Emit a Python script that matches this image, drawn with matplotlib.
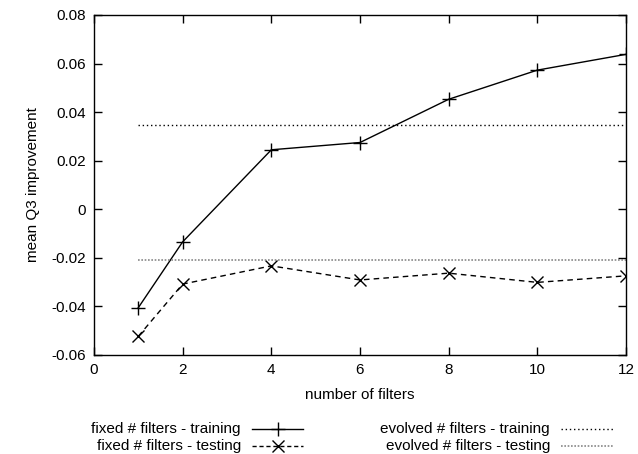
import matplotlib.pyplot as plt
from matplotlib.lines import Line2D

plt.rcParams['font.family'] = ['Liberation Sans', 'DejaVu Sans']

# Data
n_filters = [1, 2, 4, 6, 8, 10, 12]
fixed_training = [-0.0405, -0.0134, 0.0245, 0.0275, 0.0453, 0.0573, 0.0638]
fixed_testing = [-0.0523, -0.0308, -0.0233, -0.0291, -0.0263, -0.0301, -0.0274]
evolved_x = [1, 12]
evolved_training = 0.0349
evolved_testing = -0.0209

x_ticks = [0, 2, 4, 6, 8, 10, 12]
y_ticks = [-0.06, -0.04, -0.02, 0, 0.02, 0.04, 0.06, 0.08]
y_labels = ['-0.06', '-0.04', '-0.02', '0', '0.02', '0.04', '0.06', '0.08']

W, H = 638, 454
fig = plt.figure(figsize=(W / 100, H / 100), dpi=100)
ax = fig.add_axes([94 / W, 1 - 355 / H, (626 - 94) / W, (355 - 15) / H])

ax.plot(n_filters, fixed_training, color='black', lw=1, marker='+', ms=10, mew=1)
ax.plot(n_filters, fixed_testing, color='black', lw=1, ls=(0, (4, 3)), marker='x', ms=9, mew=1)
ax.plot(evolved_x, [evolved_training] * 2, color='black', lw=1, ls=(0, (1, 2)))
ax.plot(evolved_x, [evolved_testing] * 2, color='#888888', lw=1.2, ls=(0, (1, 1)))

ax.set_xlim(0, 12)
ax.set_ylim(-0.06, 0.08)
ax.set_xticks(x_ticks)
ax.set_xticklabels([str(t) for t in x_ticks])
ax.set_yticks(y_ticks)
ax.set_yticklabels(y_labels)
ax.tick_params(direction='in', top=True, right=True, length=6, width=1,
               labelsize=11, pad=6)
for s in ax.spines.values():
    s.set_linewidth(1)
ax.set_xlabel('number of filters', fontsize=11, labelpad=8)
ax.set_ylabel('mean Q3 improvement', fontsize=11, labelpad=8)

# gnuplot-style key below the plot: text right-aligned, sample to the right
entries = [
    ('fixed # filters - training', 241, 252, 303, 429,
     dict(color='black', lw=1), dict(marker='+', ms=10)),
    ('fixed # filters - testing', 241, 252, 303, 446,
     dict(color='black', lw=1, ls=(0, (3, 2))), dict(marker='x', ms=9)),
    ('evolved # filters - training', 550, 561, 613, 429,
     dict(color='black', lw=1, ls=(0, (1, 2))), None),
    ('evolved # filters - testing', 550, 561, 613, 446,
     dict(color='#888888', lw=1.2, ls=(0, (1, 1))), None),
]
for label, tx, x0, x1, y, lstyle, mstyle in entries:
    fig.text(tx / W, 1 - y / H, label, ha='right', va='center', fontsize=11)
    fig.add_artist(Line2D([x0 / W, x1 / W], [1 - y / H] * 2, **lstyle))
    if mstyle:
        fig.add_artist(Line2D([(x0 + x1) / 2 / W], [1 - y / H], color='black',
                              lw=0, mew=1, **mstyle))

fig.savefig('out.png', dpi=100)
